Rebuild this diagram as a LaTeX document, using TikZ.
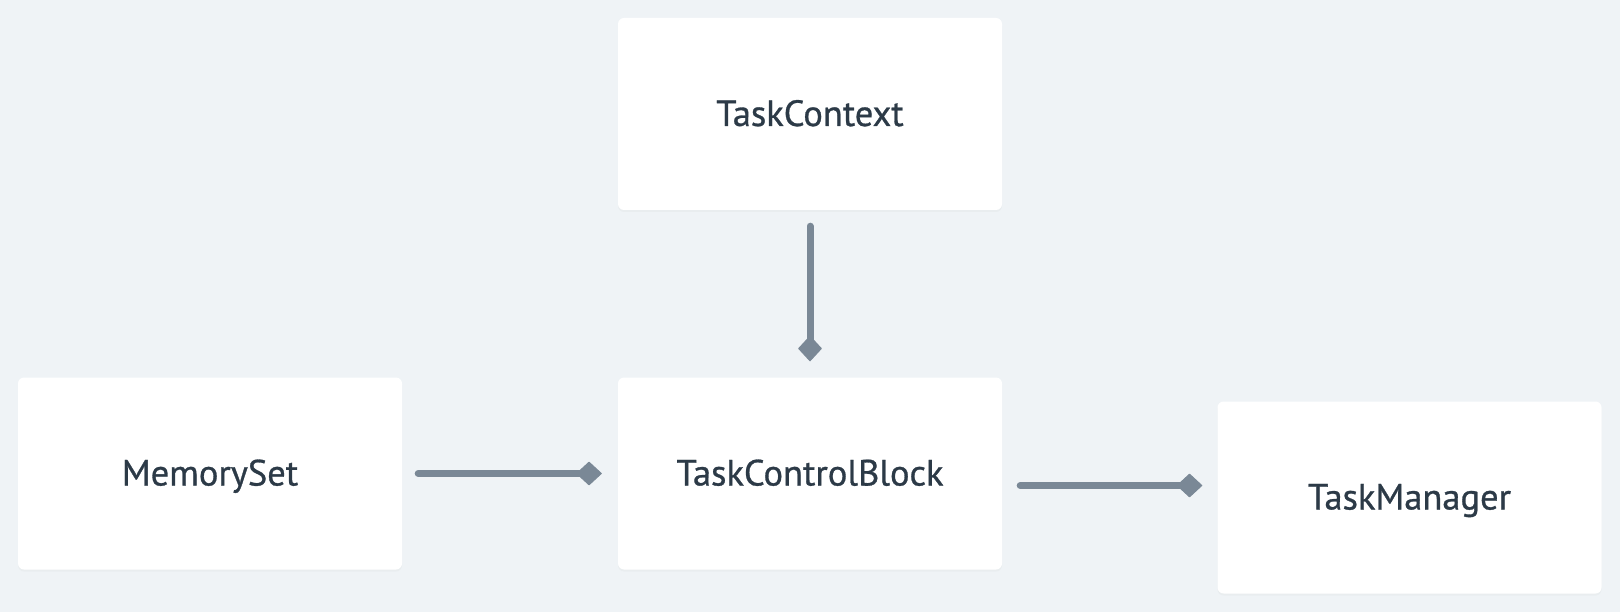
\documentclass[tikz,border=0pt]{standalone}
\usepackage{fontspec}
\newfontfamily\boxfont{PT Sans}[FakeBold=0.8]
\usetikzlibrary{arrows.meta,shadows,calc}
\definecolor{bg}{HTML}{EFF3F6}
\definecolor{conn}{HTML}{7A8896}
\definecolor{txt}{HTML}{2C3A47}
\tikzset{
  box/.style={draw=none, fill=white, rounded corners=6pt, minimum width=384pt, minimum height=192pt,
    inner sep=0pt, text=txt, font=\boxfont\fontsize{36.5}{40}\selectfont,
    text height=24pt, text depth=0pt,
    drop shadow={opacity=0.05, shadow xshift=0pt, shadow yshift=-2pt}},
  link/.style={draw=conn, line width=7pt, line cap=round,
    -{Diamond[length=26pt, width=24pt, round, line width=1pt]}, shorten <=16pt, shorten >=16pt}
}
\begin{document}
\begin{tikzpicture}[x=1pt,y=-1pt]
\fill[bg] (0,0) rectangle (1620,612);
\useasboundingbox (0,0) rectangle (1620,612);
\node[box] (tc) at (810,114) {TaskContext};
\node[box] (ms) at (210,473.5) {MemorySet};
\node[box] (tcb) at (810,473.5) {TaskControlBlock};
\node[box] (tm) at (1409.5,497.5) {TaskManager};
\draw[link] (tc) -- (tcb);
\draw[link] (ms) -- (tcb);
\coordinate (mid) at ($(tcb.east)!0.5!(tm.west)$);
\draw[link, shorten <=18pt, shorten >=15pt] (tcb.east |- mid) -- (tm.west |- mid);
\end{tikzpicture}
\end{document}
